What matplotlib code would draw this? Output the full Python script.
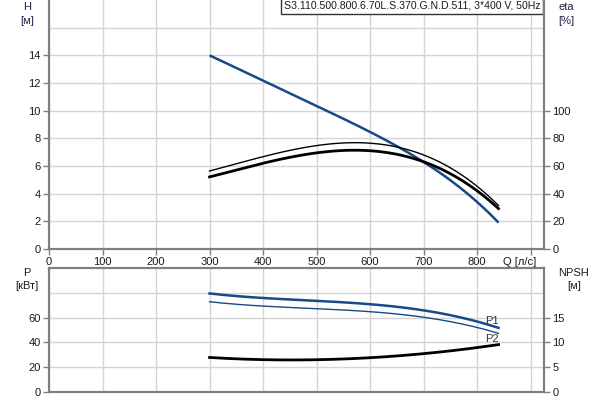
import matplotlib
matplotlib.use('Agg')
import matplotlib.pyplot as plt
import numpy as np

# curve data
q = [300, 400, 500, 600, 700, 800, 840]
head = [14.0, 12.16, 10.36, 8.45, 6.29, 3.41, 1.9]
eta_upper = [56.5, 66.6, 74.3, 77.4, 67.8, 44.5, 32.0]
eta_lower = [52.2, 61.8, 69.5, 71.2, 63.3, 41.3, 29.7]
p1 = [79.5, 75.7, 73.8, 70.5, 65.9, 57.0, 51.6]
p2 = [72.7, 69.5, 67.3, 64.3, 60.5, 52.4, 47.0]
npsh = [6.95, 6.55, 6.5, 6.9, 7.7, 9.05, 9.5]

q_ticks = [0, 100, 200, 300, 400, 500, 600, 700, 800]
title = "S3.110.500.800.6.70L.S.370.G.N.D.511, 3*400 V, 50Hz"

blue = '#174a87'
grid_c = '#d4d4d4'
spine_c = '#7f7f7f'
txt_c = '#1a1a1a'

plt.rcParams['font.family'] = ['Liberation Sans', 'DejaVu Sans']
plt.rcParams['font.size'] = 8


def smooth(x, y, deg=3, n=200):
	xs = np.linspace(x[0], x[-1], n)
	coef = np.polyfit(x, y, deg)
	return xs, np.polyval(coef, xs)


def style(ax, twin):
	for s in ['left', 'right', 'bottom', 'top']:
		ax.spines[s].set_color(spine_c)
		twin.spines[s].set_color(spine_c)
		ax.spines[s].set_linewidth(1.5)
		twin.spines[s].set_linewidth(1.5)
	ax.tick_params(colors=txt_c, length=4, width=1, color=spine_c, pad=2)
	twin.tick_params(colors=txt_c, length=4, width=1, color=spine_c, pad=2)
	ax.set_xlim(0, 925)
	ax.set_xticks(list(range(0, 1000, 100)))
	ax.grid(True, color=grid_c, lw=1)
	ax.set_axisbelow(True)


fig = plt.figure(figsize=(6, 4), dpi=100)

# top chart: head and efficiency
ax1 = fig.add_axes([49/600, 1-249/400, 495/600, 249/400])
ax1b = ax1.twinx()
style(ax1, ax1b)
ax1.spines['top'].set_visible(False)
ax1b.spines['top'].set_visible(False)
ax1.set_ylim(0, 18)
ax1b.set_ylim(0, 180)
ax1.set_yticks(range(0, 18, 2))
ax1.set_yticklabels([str(v) if v <= 14 else '' for v in range(0, 18, 2)])
ax1.yaxis.get_major_ticks()[-1].tick1line.set_visible(False)
ax1b.set_yticks([0, 20, 40, 60, 80, 100])
ax1.set_xticklabels([str(v) for v in q_ticks] + [''])

xs, ys = smooth(q, head, 4)
ax1.plot(xs, ys, color=blue, lw=1.8, solid_capstyle='butt')
xs, ys = smooth(q, eta_upper)
ax1b.plot(xs, ys, color='black', lw=1.0)
xs, ys = smooth(q, eta_lower)
ax1b.plot(xs, ys, color='black', lw=2.0)

ax1.text(-0.045, 0.99, "H\n[м]", transform=ax1.transAxes, ha='center', va='top',
	color='#2a1a4a', linespacing=1.4)
ax1b.text(1.045, 0.99, "eta\n[%]", transform=ax1.transAxes, ha='center', va='top',
	color='#2a1a4a', linespacing=1.4)
ax1.annotate("Q [л/с]", xy=(0.985, 0), xycoords='axes fraction',
	xytext=(0, -6), textcoords='offset points', ha='right', va='top', color=txt_c)
ax1.text(0.993, 0.996, title, transform=ax1.transAxes, ha='right', va='top',
	color=txt_c, fontsize=7.6,
	bbox=dict(boxstyle='square,pad=0.25', fc='white', ec='#333333', lw=1))

# bottom chart: power and NPSH
ax2 = fig.add_axes([49/600, 1-392/400, 495/600, 124/400])
ax2b = ax2.twinx()
style(ax2, ax2b)
ax2.set_ylim(0, 100)
ax2b.set_ylim(0, 25)
ax2.set_yticks([0, 20, 40, 60, 80])
ax2.set_yticklabels(['0', '20', '40', '60', ''])
ax2.yaxis.get_major_ticks()[-1].tick1line.set_visible(False)
ax2b.set_yticks([0, 5, 10, 15])
ax2.set_xticklabels([])
ax2.tick_params(axis='x', length=0)

xs, ys = smooth(q, p1)
ax2.plot(xs, ys, color=blue, lw=1.8)
xs, ys = smooth(q, p2)
ax2.plot(xs, ys, color=blue, lw=1.0)
xs, ys = smooth(q, npsh)
ax2b.plot(xs, ys, color='black', lw=2.0)

ax2.text(q[-1], p1[-1] + 2, "P1", ha='right', va='bottom', color='#333333')
ax2.text(q[-1], npsh[-1] * 4 + 0.5, "P2", ha='right', va='bottom', color='#333333')

ax2.text(-0.045, 1.0, "P\n[кВт]", transform=ax2.transAxes, ha='center', va='top',
	color=txt_c, linespacing=1.4)
ax2b.text(1.06, 1.0, "NPSH\n[м]", transform=ax2.transAxes, ha='center', va='top',
	color=txt_c, linespacing=1.4)

fig.savefig("out.png", dpi=100)
